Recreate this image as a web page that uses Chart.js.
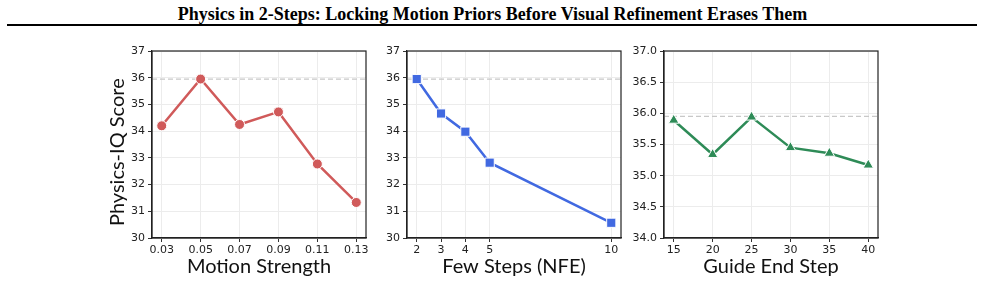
<!DOCTYPE html>
<html lang="en">
<head>
<meta charset="UTF-8">
<title>Physics in 2-Steps</title>
<script src="https://cdn.jsdelivr.net/npm/chart.js"></script>
<style>
    body {
        margin: 0;
        width: 985px;
        height: 295px;
        background: #fff;
        position: relative;
        overflow: hidden;
    }
    #title {
        position: absolute;
        left: 0;
        top: 3px;
        width: 985px;
        text-align: center;
        font-family: "Liberation Serif", serif;
        font-weight: bold;
        font-size: 18px;
        line-height: 22px;
        color: #000;
    }
    #rule {
        position: absolute;
        left: 7px;
        top: 24px;
        width: 970px;
        height: 2px;
        background: #000;
    }
    canvas {
        position: absolute;
        top: 40px;
    }
</style>
</head>
<body>

<div id="title">Physics in 2-Steps: Locking Motion Priors Before Visual Refinement Erases Them</div>
<div id="rule"></div>

<canvas id="chartMotion" width="280" height="245" style="left:95px"></canvas>
<canvas id="chartSteps" width="263" height="245" style="left:367px"></canvas>
<canvas id="chartGuide" width="263" height="245" style="left:624px"></canvas>

<script>
// data
var baselineScore = 35.95;

var motionStrength = [0.03, 0.05, 0.07, 0.09, 0.11, 0.13];
var motionScores = [34.2, 35.95, 34.25, 34.72, 32.77, 31.33];

var fewSteps = [2, 3, 4, 5, 10];
var fewStepsScores = [35.95, 34.66, 33.98, 32.82, 30.57];

var guideEndStep = [15, 20, 25, 30, 35, 40];
var guideScores = [35.89, 35.34, 35.94, 35.45, 35.36, 35.17];

var yTicksA = [30, 31, 32, 33, 34, 35, 36, 37];
var yTicksB = [34.0, 34.5, 35.0, 35.5, 36.0, 36.5, 37.0];

var tickFont = { family: 'DejaVu Sans', size: 11 };
var titleFont = { family: 'Lato', size: 20 };

var framePlugin = {
    id: 'frame',
    afterDraw: function (chart) {
        var a = chart.chartArea;
        var ctx = chart.ctx;
        ctx.save();
        ctx.strokeStyle = '#222';
        ctx.lineWidth = 1.2;
        ctx.strokeRect(a.left, a.top, a.right - a.left, a.bottom - a.top);
        ctx.restore();
    }
};

function toPoints(xs, ys) {
    return xs.map((x, i) => ({ x: x, y: ys[i] }));
}

function makeChart(canvasId, cfg) {
    var ctx = document.getElementById(canvasId).getContext('2d');
    return new Chart(ctx, {
        type: 'line',
        data: {
            datasets: [{
                data: toPoints(cfg.xs, cfg.ys),
                borderColor: cfg.color,
                backgroundColor: cfg.color,
                borderWidth: 2.5,
                pointStyle: cfg.pointStyle,
                pointRadius: cfg.pointRadius,
                pointBorderColor: '#fff',
                pointBorderWidth: 1,
                tension: 0,
            }, {
                data: [{ x: cfg.xMin, y: baselineScore }, { x: cfg.xMax, y: baselineScore }],
                borderColor: '#c8c8c8',
                borderWidth: 1.3,
                borderDash: [5, 3],
                pointRadius: 0,
            }]
        },
        options: {
            responsive: false,
            animation: false,
            layout: { padding: { top: 11, right: 9, left: 0, bottom: 0 } },
            scales: {
                x: {
                    type: 'linear',
                    min: cfg.xMin,
                    max: cfg.xMax,
                    afterBuildTicks: s => { s.ticks = cfg.xs.map(v => ({ value: v })); },
                    afterFit: s => { s.height = 47; },
                    ticks: {
                        font: tickFont,
                        color: '#222',
                        padding: 2,
                        maxRotation: 0,
                        autoSkip: false,
                        callback: cfg.xFormat,
                    },
                    grid: { color: '#ececec', tickColor: '#333', tickLength: 4 },
                    border: { color: '#222', width: 1.2 },
                    title: {
                        display: true,
                        text: cfg.xTitle,
                        font: titleFont,
                        color: '#111',
                        padding: { top: 0, bottom: 6 },
                    },
                },
                y: {
                    min: cfg.yTicks[0],
                    max: cfg.yTicks[cfg.yTicks.length - 1],
                    afterBuildTicks: s => { s.ticks = cfg.yTicks.map(v => ({ value: v })); },
                    afterFit: s => { s.width = cfg.yWidth; },
                    ticks: {
                        font: tickFont,
                        color: '#222',
                        padding: 3,
                        callback: cfg.yFormat,
                    },
                    grid: { color: '#ececec', tickColor: '#333', tickLength: 4 },
                    border: { color: '#222', width: 1.2 },
                    title: {
                        display: !!cfg.yTitle,
                        text: cfg.yTitle || '',
                        font: titleFont,
                        color: '#111',
                        padding: { top: 11, bottom: 0 },
                    },
                },
            },
            plugins: {
                legend: { display: false },
                tooltip: { enabled: false },
            },
        },
        plugins: [framePlugin],
    });
}

makeChart('chartMotion', {
    xs: motionStrength,
    ys: motionScores,
    xMin: 0.025,
    xMax: 0.135,
    xFormat: v => v.toFixed(2),
    yTicks: yTicksA,
    yFormat: v => String(v),
    yWidth: 57,
    color: '#d05a5a',
    pointStyle: 'circle',
    pointRadius: 5,
    xTitle: 'Motion Strength',
    // trailing spaces nudge the rotated label down a little, as in the original
    yTitle: 'Physics-IQ Score   ',
});

makeChart('chartSteps', {
    xs: fewSteps,
    ys: fewStepsScores,
    xMin: 1.6,
    xMax: 10.4,
    xFormat: v => String(v),
    yTicks: yTicksA,
    yFormat: v => String(v),
    yWidth: 40,
    color: '#4169e1',
    pointStyle: 'rect',
    pointRadius: 6.5,
    xTitle: 'Few Steps (NFE)',
});

makeChart('chartGuide', {
    xs: guideEndStep,
    ys: guideScores,
    xMin: 13.75,
    xMax: 41.25,
    xFormat: v => String(v),
    yTicks: yTicksB,
    yFormat: v => v.toFixed(1),
    yWidth: 40,
    color: '#2e8b57',
    pointStyle: 'triangle',
    pointRadius: 6,
    xTitle: 'Guide End Step',
});
</script>

</body>
</html>
